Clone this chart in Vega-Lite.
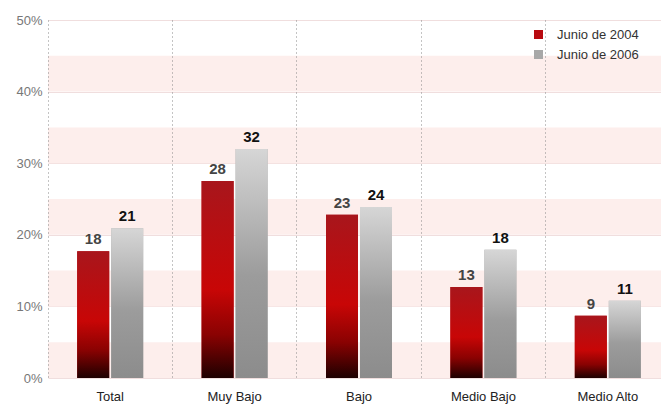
{
  "$schema": "https://vega.github.io/schema/vega-lite/v6.json",
  "width": 613,
  "height": 358,
  "autosize": {"type": "none"},
  "padding": {"left": 48, "top": 20, "right": 0, "bottom": 29},
  "background": "white",
  "config": {"view": {"stroke": null}, "font": "Liberation Sans"},
  "datasets": {
    "bars": [
      {"cat": "Total", "serie": "Junio de 2004", "value": 17.7},
      {"cat": "Total", "serie": "Junio de 2006", "value": 20.9},
      {"cat": "Muy Bajo", "serie": "Junio de 2004", "value": 27.5},
      {"cat": "Muy Bajo", "serie": "Junio de 2006", "value": 32.0},
      {"cat": "Bajo", "serie": "Junio de 2004", "value": 22.8},
      {"cat": "Bajo", "serie": "Junio de 2006", "value": 23.9},
      {"cat": "Medio Bajo", "serie": "Junio de 2004", "value": 12.7},
      {"cat": "Medio Bajo", "serie": "Junio de 2006", "value": 17.9},
      {"cat": "Medio Alto", "serie": "Junio de 2004", "value": 8.7},
      {"cat": "Medio Alto", "serie": "Junio de 2006", "value": 10.8}
    ],
    "bands": [
      {"b0": 0, "b1": 5},
      {"b0": 10, "b1": 15},
      {"b0": 20, "b1": 25},
      {"b0": 30, "b1": 35},
      {"b0": 40, "b1": 45}
    ]
  },
  "layer": [
    {
      "data": {"name": "bands"},
      "mark": {"type": "rect", "color": "#fdeeec"},
      "encoding": {
        "y": {"field": "b0", "type": "quantitative", "scale": {"domain": [0, 50], "nice": false},
          "axis": {"title": null, "values": [0, 10, 20, 30, 40, 50], "labelExpr": "datum.value + '%'", "grid": true, "gridColor": "#f0dede", "ticks": false, "domain": false, "labelPadding": 6, "labelFontSize": 13, "labelColor": "#777"}},
        "y2": {"field": "b1"}
      }
    },
    {
      "data": {"name": "bars"},
      "mark": {"type": "bar"},
      "encoding": {
        "x": {"field": "cat", "type": "nominal", "sort": ["Total", "Muy Bajo", "Bajo", "Medio Bajo", "Medio Alto"],
          "scale": {"range": [0, 622], "paddingInner": 0, "paddingOuter": 0},
          "axis": {"title": null, "bandPosition": 0, "grid": true, "gridDash": [1, 3], "gridColor": "#888", "ticks": false, "domain": false, "labelPadding": 12, "labelFontSize": 13, "labelColor": "#222", "labelAngle": 0, "zindex": 1}},
        "xOffset": {"field": "serie", "type": "nominal", "scale": {"paddingInner": 0.0588, "paddingOuter": 0.859}},
        "y": {"field": "value", "type": "quantitative", "axis": {"title": null, "values": [0, 10, 20, 30, 40, 50], "labelExpr": "datum.value + '%'"}},
        "fill": {"field": "serie", "type": "nominal", "scale": {"range": ["#b80a10", "#a8a8a8"]},
          "legend": {"title": null, "orient": "none", "legendX": 484, "legendY": 8, "symbolType": "square", "symbolSize": 81, "labelFontSize": 13, "labelColor": "#333", "labelOffset": 12, "rowPadding": 6, "symbolStrokeWidth": 0,
            "encode": {"symbols": {"update": {"fill": [
              {"test": "datum.value === 'Junio de 2004'", "value": {"gradient": "linear", "x1": 0, "y1": 0, "x2": 0, "y2": 1, "stops": [{"offset": 0, "color": "#c01018"}, {"offset": 0.6, "color": "#c80606"}, {"offset": 1, "color": "#400000"}]}},
              {"value": {"gradient": "linear", "x1": 0, "y1": 0, "x2": 0, "y2": 1, "stops": [{"offset": 0, "color": "#d6d6d6"}, {"offset": 1, "color": "#909090"}]}}
            ]}}}}}
      }
    },
    {
      "data": {"name": "bars"},
      "mark": {"type": "bar"},
      "encoding": {
        "x": {"field": "cat", "type": "nominal", "sort": ["Total", "Muy Bajo", "Bajo", "Medio Bajo", "Medio Alto"]},
        "xOffset": {"field": "serie", "type": "nominal"},
        "y": {"field": "value", "type": "quantitative"},
        "fill": {
          "condition": {"test": "datum.serie === 'Junio de 2004'", "value": {"gradient": "linear", "x1": 0, "y1": 0, "x2": 0, "y2": 1, "stops": [{"offset": 0, "color": "#a8161c"}, {"offset": 0.55, "color": "#c80606"}, {"offset": 0.78, "color": "#8a0202"}, {"offset": 1, "color": "#1e0000"}]}},
          "value": {"gradient": "linear", "x1": 0, "y1": 0, "x2": 0, "y2": 1, "stops": [{"offset": 0, "color": "#d6d6d6"}, {"offset": 0.55, "color": "#9c9c9c"}, {"offset": 1, "color": "#8c8c8c"}]}
        }
      }
    },
    {
      "data": {"name": "bars"},
      "mark": {"type": "text", "baseline": "bottom", "dy": -4, "fontSize": 15, "fontWeight": "bold"},
      "encoding": {
        "x": {"field": "cat", "type": "nominal", "sort": ["Total", "Muy Bajo", "Bajo", "Medio Bajo", "Medio Alto"]},
        "xOffset": {"field": "serie", "type": "nominal"},
        "y": {"field": "value", "type": "quantitative"},
        "text": {"field": "value", "type": "quantitative", "format": ".0f"},
        "color": {"condition": {"test": "datum.serie === 'Junio de 2004'", "value": "#444"}, "value": "#111"}
      }
    }
  ]
}
